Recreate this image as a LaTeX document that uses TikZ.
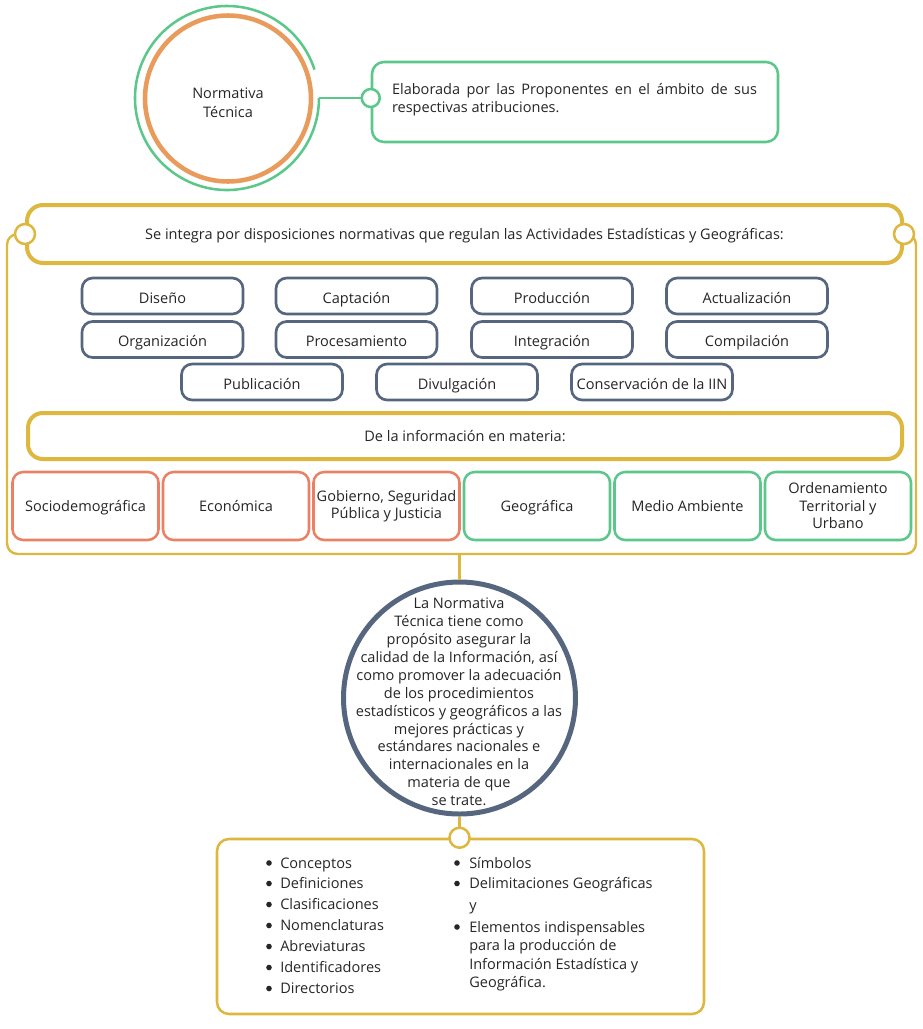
\documentclass[tikz,border=0pt]{standalone}
\usepackage{fontspec}
\setmainfont{Open Sans}
\definecolor{cgreen}{HTML}{5BC78A}
\definecolor{corange}{HTML}{E89B5B}
\definecolor{csalmon}{HTML}{EA8164}
\definecolor{cblue}{HTML}{57667F}
\definecolor{cyellow}{HTML}{DEB73F}
\definecolor{ctext}{HTML}{262626}
\begin{document}
\begin{tikzpicture}[x=0.75pt,y=0.75pt,
  every node/.style={font=\fontsize{10.9}{13.4}\selectfont, text=ctext},
  bluebox/.style={draw=cblue, line width=2pt, rounded corners=8pt, minimum width=120.75pt, minimum height=27pt, inner sep=0pt, fill=white, text height=10.6pt, text depth=0pt},
  colbox/.style={draw=#1, line width=1.9pt, rounded corners=8pt, minimum width=109.5pt, minimum height=51pt, inner sep=1pt, align=center, fill=white, font=\fontsize{10.9}{13.1}\selectfont},
  onel/.style={text height=7.8pt, text depth=0pt},
  yelbig/.style={draw=cyellow, line width=3pt, rounded corners=12pt, fill=white},
  knobg/.style={circle, draw=cgreen, line width=1.9pt, fill=white, minimum size=13.5pt, inner sep=0pt, outer sep=0pt},
  knoby/.style={circle, draw=cyellow, line width=1.9pt, fill=white, minimum size=15pt, inner sep=0pt, outer sep=0pt},
  item/.style={anchor=base west, inner sep=0pt},
  bul/.style={circle, fill=ctext, minimum size=4.2pt, inner sep=0pt}
]
\useasboundingbox (0,0) rectangle (922,-1029);

% ---------- top ----------
\node[circle, minimum size=138pt, inner sep=0pt, outer sep=0pt] (nt) at (227,-98) {};
\draw[cgreen, line width=1.9pt] (nt.18) arc[start angle=18, end angle=360, radius=69pt];
\node[circle, draw=corange, line width=3.4pt, minimum size=124.5pt, inner sep=0pt] (nc) at (228,-98.5) {};
\node[align=center, inner sep=0pt, font=\fontsize{10.9}{14.2}\selectfont] (nctext) at (228,-102.5) {Normativa\\Técnica};
\node[draw=cgreen, line width=1.9pt, rounded corners=9pt, minimum width=304.5pt, minimum height=60pt, inner sep=0pt] (gbox) at (575,-102) {};
\node[text width=273.75pt, align=justify, inner sep=0pt] (gtext) at (574.5,-99.5)
  {Elaborada por las Proponentes en el ámbito de sus\linebreak respectivas atribuciones.};
\node[knobg] (k1) at ([yshift=3pt]gbox.west) {};
\draw[cgreen, line width=1.9pt] (nt.east) -- (k1.west);

% ---------- yellow frame ----------
\node[draw=cyellow, line width=1.8pt, rounded corners=8pt, minimum width=681.75pt, minimum height=240pt, inner sep=0pt, outer sep=0pt] (frame) at (461.5,-394) {};
\node[yelbig, onel, minimum width=656.25pt, minimum height=43.5pt, inner sep=0pt] (hdr) at (464.5,-234)
  {Se integra por disposiciones normativas que regulan las Actividades Estadísticas y Geográficas:};
\node[knoby] (kl) at (hdr.west) {};
\node[knoby] (kr) at (hdr.east) {};

% blue boxes
\node[bluebox] (b1) at (162.5,-296) {Diseño};
\node[bluebox] (b2) at (356.5,-296) {Captación};
\node[bluebox] (b3) at (552,-296) {Producción};
\node[bluebox] (b4) at (747,-296) {Actualización};
\node[bluebox] (b5) at (162.5,-339.5) {Organización};
\node[bluebox] (b6) at (356.5,-339.5) {Procesamiento};
\node[bluebox] (b7) at (552,-339.5) {Integración};
\node[bluebox] (b8) at (747,-339.5) {Compilación};
\node[bluebox] (b9) at (262,-382) {Publicación};
\node[bluebox] (b10) at (457,-382) {Divulgación};
\node[bluebox] (b11) at (652,-382) {Conservación de la IIN};

\node[yelbig, onel, rounded corners=11pt, minimum width=655.5pt, minimum height=34.5pt, inner sep=0pt] (mat) at (465,-436)
  {De la información en materia:};

\node[colbox=csalmon, onel] (m1) at (85.5,-506) {Sociodemográfica};
\node[colbox=csalmon, onel] (m2) at (236,-506) {Económica};
\node[colbox=csalmon] (m3) at (386.5,-506) {Gobierno, Seguridad\\Pública y Justicia};
\node[colbox=cgreen, onel] (m4) at (537,-506) {Geográfica};
\node[colbox=cgreen, onel] (m5) at (687.5,-506) {Medio Ambiente};
\node[colbox=cgreen] (m6) at (838,-506) {Ordenamiento\\Territorial y\\Urbano};

% ---------- circle ----------
\node[circle, draw=cblue, line width=3.75pt, minimum size=174pt, inner sep=0pt] (circ) at (459.5,-698) {};
\node[align=center, inner sep=0pt] (ctext) at (459,-702)
  {La Normativa\\Técnica tiene como\\propósito asegurar la\\calidad de la Información, así\\como promover la adecuación\\de los procedimientos\\estadísticos y geográficos a las\\mejores prácticas y\\estándares nacionales e\\internacionales en la\\materia de que\\se trate.};
\draw[cyellow, line width=1.9pt] (circ.north) -- (frame.south -| circ.north);

% ---------- bottom box ----------
\node[draw=cyellow, line width=1.9pt, rounded corners=9pt, minimum width=365.25pt, minimum height=131.25pt, inner sep=0pt] (bbox) at (460.5,-926.5) {};
\node[knoby] (kb) at (bbox.north -| circ.south) {};
\draw[cyellow, line width=1.9pt] (circ.south) -- (kb.north);

\node[bul] (l1b) at (269,-863) {};   \node[item] (l1) at (280,-868) {Conceptos};
\node[bul] (l2b) at (269,-883.5) {}; \node[item] (l2) at (280,-888.5) {Definiciones};
\node[bul] (l3b) at (269,-904.5) {}; \node[item] (l3) at (280,-909.5) {Clasificaciones};
\node[bul] (l4b) at (269,-925.5) {}; \node[item] (l4) at (280,-930.5) {Nomenclaturas};
\node[bul] (l5b) at (269,-946.5) {}; \node[item] (l5) at (280,-951.5) {Abreviaturas};
\node[bul] (l6b) at (269,-967.5) {}; \node[item] (l6) at (280,-972.5) {Identificadores};
\node[bul] (l7b) at (269,-988.5) {}; \node[item] (l7) at (280,-993.5) {Directorios};

\node[bul] (r1b) at (457,-863) {};   \node[item] (r1) at (469,-868) {Símbolos};
\node[bul] (r2b) at (457,-883.5) {}; \node[item] (r2) at (469,-888.5) {Delimitaciones Geográficas};
\node[item] (r2c) at (469,-910) {y};
\node[bul] (r3b) at (457,-927) {};   \node[item] (r3) at (469,-932) {Elementos indispensables};
\node[item] (r3c) at (469,-950) {para la producción de};
\node[item] (r3d) at (469,-969) {Información Estadística y};
\node[item] (r3e) at (469,-987) {Geográfica.};
\end{tikzpicture}
\end{document}
